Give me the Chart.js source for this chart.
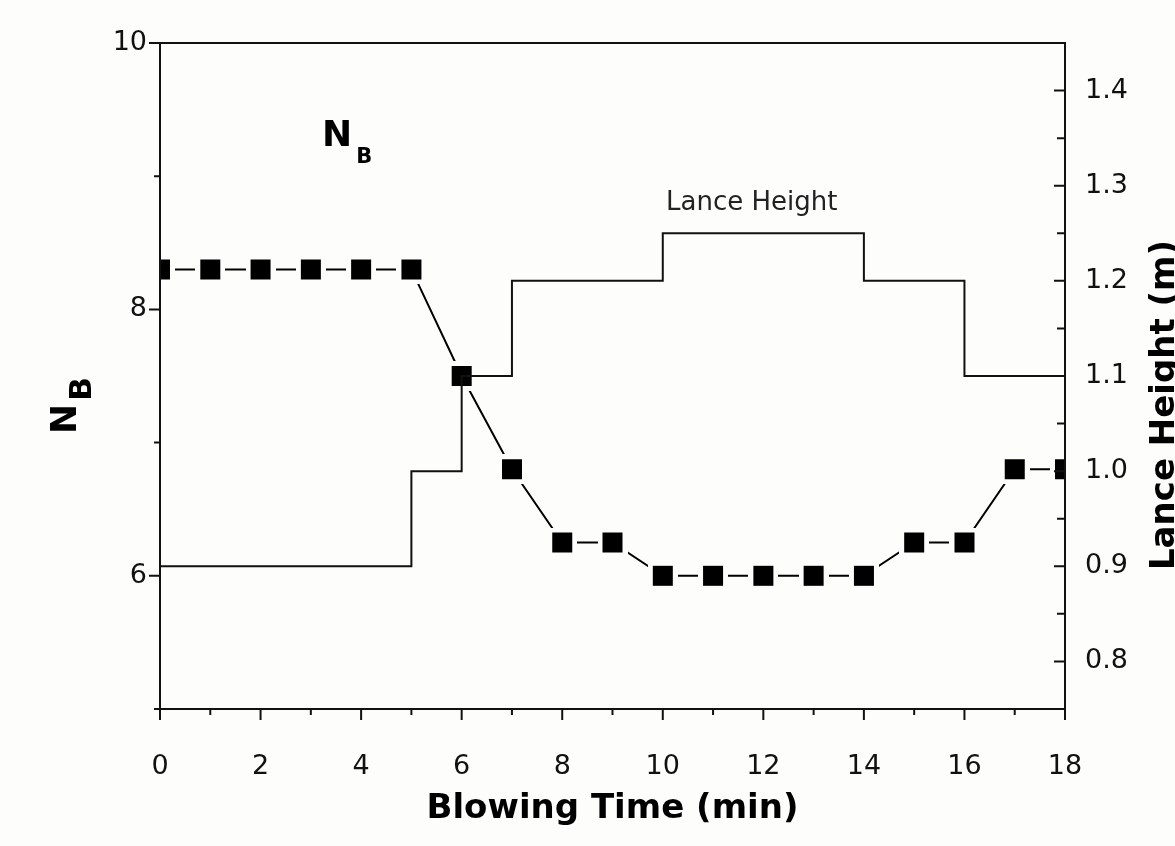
<!DOCTYPE html>
<html>
<head>
<meta charset="utf-8">
<script src="https://cdn.jsdelivr.net/npm/chart.js@4.4.1/dist/chart.umd.min.js"></script>
<style>
    html, body { margin: 0; padding: 0; background: #fdfdfb; }
    #wrap { width: 1175px; height: 846px; }
</style>
</head>
<body>
<div id="wrap"><canvas id="chart" width="1175" height="846"></canvas></div>
<script>
// Data
const minutes = [0, 1, 2, 3, 4, 5, 6, 7, 8, 9, 10, 11, 12, 13, 14, 15, 16, 17, 18];
const nbValues = [8.3, 8.3, 8.3, 8.3, 8.3, 8.3, 7.5, 6.8, 6.25, 6.25, 6.0, 6.0, 6.0, 6.0, 6.0, 6.25, 6.25, 6.8, 6.8];
const lanceTimes = [0, 5, 6, 7, 10, 14, 16, 18];
const lanceHeights = [0.9, 1.0, 1.1, 1.2, 1.25, 1.2, 1.1, 1.1];

// Tick labels
const timeLabels = [0, 2, 4, 6, 8, 10, 12, 14, 16, 18];
const nbLabels = [6, 8, 10];
const lanceLabels = ['0.8', '0.9', '1.0', '1.1', '1.2', '1.3', '1.4'];

const BG = '#fdfdfb';
const INK = '#111111';
const tickFont = { family: 'DejaVu Sans', size: 27 };

// square marker with a halo in the background colour, so the line stops short of it
function makeMarker() {
    const c = document.createElement('canvas');
    c.width = 30;
    c.height = 30;
    const g = c.getContext('2d');
    g.fillStyle = BG;
    g.fillRect(0, 0, 30, 30);
    g.fillStyle = '#000';
    g.fillRect(5, 5, 20, 20);
    return c;
}

const bgPlugin = {
    id: 'bg',
    beforeDraw(chart) {
        const ctx = chart.ctx;
        ctx.save();
        ctx.fillStyle = BG;
        ctx.fillRect(0, 0, chart.width, chart.height);
        ctx.restore();
    }
};

// frame, tick marks and the texts with subscripts
const framePlugin = {
    id: 'frame',
    afterDraw(chart) {
        const ctx = chart.ctx;
        const a = chart.chartArea;
        ctx.save();
        ctx.strokeStyle = INK;
        ctx.lineWidth = 2;
        ctx.strokeRect(a.left, a.top, a.right - a.left, a.bottom - a.top);

        ctx.beginPath();
        // bottom axis, ticks pointing out
        chart.scales.x.ticks.forEach(t => {
            const px = chart.scales.x.getPixelForValue(t.value);
            const len = timeLabels.includes(t.value) ? 11 : 6;
            ctx.moveTo(px, a.bottom);
            ctx.lineTo(px, a.bottom + len);
        });
        // left axis, ticks pointing out
        chart.scales.y.ticks.forEach(t => {
            const py = chart.scales.y.getPixelForValue(t.value);
            const len = t.value % 2 === 0 ? 11 : 6;
            ctx.moveTo(a.left, py);
            ctx.lineTo(a.left - len, py);
        });
        // right axis, ticks pointing in
        chart.scales.y1.ticks.forEach(t => {
            const py = chart.scales.y1.getPixelForValue(t.value);
            const len = t.label ? 11 : 8;
            ctx.moveTo(a.right, py);
            ctx.lineTo(a.right - len, py);
        });
        ctx.stroke();

        ctx.fillStyle = '#000';
        ctx.textBaseline = 'alphabetic';
        ctx.textAlign = 'left';

        // left axis title N_B
        ctx.save();
        ctx.translate(76, 434);
        ctx.rotate(-Math.PI / 2);
        ctx.font = 'bold 36px "DejaVu Sans"';
        ctx.fillText('N', 0, 0);
        const nw = ctx.measureText('N').width;
        ctx.font = 'bold 31px "DejaVu Sans"';
        ctx.fillText('B', nw + 3, 15);
        ctx.restore();

        // right axis title
        ctx.save();
        ctx.translate(1174, 405);
        ctx.rotate(-Math.PI / 2);
        ctx.textAlign = 'center';
        ctx.font = 'bold 34px "DejaVu Sans"';
        ctx.fillText('Lance Height (m)', 0, 0);
        ctx.restore();

        // labels inside the plot
        ctx.font = 'bold 36px "DejaVu Sans"';
        ctx.fillText('N', 322, 146);
        const iw = ctx.measureText('N').width;
        ctx.font = 'bold 21px "DejaVu Sans"';
        ctx.fillText('B', 322 + iw + 4, 163);

        ctx.font = '26px "DejaVu Sans"';
        ctx.fillStyle = '#222';
        ctx.fillText('Lance Height', 666, 210);
        ctx.restore();
    }
};

const ctx = document.getElementById('chart').getContext('2d');
new Chart(ctx, {
    type: 'line',
    data: {
        datasets: [
            {
                label: 'NB',
                data: minutes.map((m, i) => ({ x: m, y: nbValues[i] })),
                yAxisID: 'y',
                borderColor: '#000',
                borderWidth: 2,
                pointStyle: makeMarker(),
                pointRadius: 10,
                tension: 0,
                clip: 0,
                order: 2
            },
            {
                label: 'Lance Height',
                data: lanceTimes.map((m, i) => ({ x: m, y: lanceHeights[i] })),
                yAxisID: 'y1',
                borderColor: INK,
                borderWidth: 2,
                stepped: 'before',
                pointRadius: 0,
                clip: 0,
                order: 1
            }
        ]
    },
    options: {
        responsive: false,
        animation: false,
        layout: { padding: { top: 43, left: 0, right: 0, bottom: 0 } },
        plugins: {
            legend: { display: false },
            tooltip: { enabled: false }
        },
        scales: {
            x: {
                type: 'linear',
                min: 0,
                max: 18,
                grid: { display: false, drawTicks: false },
                border: { display: false },
                ticks: {
                    stepSize: 1,
                    autoSkip: false,
                    maxRotation: 0,
                    padding: 42,
                    color: '#111',
                    font: tickFont,
                    callback: v => timeLabels.includes(v) ? String(v) : ''
                },
                title: {
                    display: true,
                    text: 'Blowing Time (min)',
                    color: '#000',
                    font: { family: 'DejaVu Sans', size: 34, weight: 'bold' },
                    padding: { top: 0, bottom: 16 }
                },
                afterFit: s => { s.height = 137; }
            },
            y: {
                position: 'left',
                min: 5,
                max: 10,
                grid: { display: false, drawTicks: false },
                border: { display: false },
                ticks: {
                    stepSize: 1,
                    autoSkip: false,
                    padding: 13,
                    color: '#111',
                    font: tickFont,
                    callback: v => nbLabels.includes(v) ? String(v) : ''
                },
                afterFit: s => { s.width = 160; }
            },
            y1: {
                position: 'right',
                min: 0.75,
                max: 1.45,
                grid: { display: false, drawTicks: false },
                border: { display: false },
                ticks: {
                    stepSize: 0.05,
                    autoSkip: false,
                    padding: 20,
                    color: '#111',
                    font: tickFont,
                    callback: v => {
                        const s = v.toFixed(1);
                        return Math.abs(v * 10 - Math.round(v * 10)) < 1e-6 && lanceLabels.includes(s) ? s : '';
                    }
                },
                afterFit: s => { s.width = 110; }
            }
        }
    },
    plugins: [bgPlugin, framePlugin]
});
</script>
</body>
</html>
